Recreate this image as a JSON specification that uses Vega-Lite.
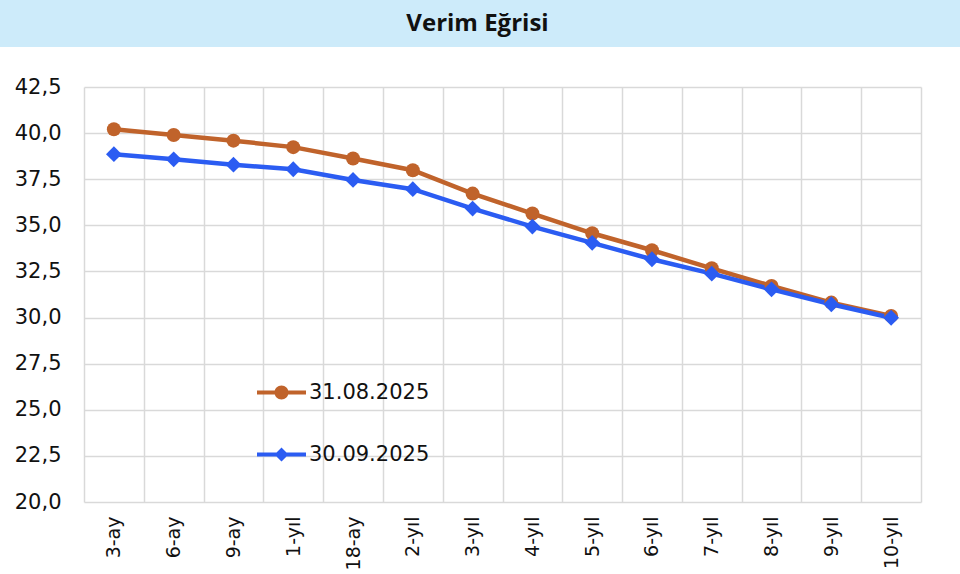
{
  "$schema": "https://vega.github.io/schema/vega-lite/v6.json",
  "padding": 0,
  "background": "white",
  "spacing": 29,
  "center": true,
  "config": {
    "locale": {"number": {"decimal": ",", "thousands": ".", "grouping": [3], "currency": ["", " ₺"]}},
    "view": {"stroke": null}
  },
  "vconcat": [
    {
      "width": 1005,
      "height": 47,
      "view": {"fill": "#CDEBFA", "stroke": null},
      "data": {"values": [{"title": "Verim Eğrisi"}]},
      "mark": {"type": "text", "font": "Open Sans", "fontWeight": "bold", "fontSize": 24, "color": "#111111", "dx": -25},
      "encoding": {"text": {"field": "title", "type": "nominal"}}
    },
    {
      "width": 837,
      "height": 415,
      "data": {"values": [
        {"tenor": "3-ay", "series": "31.08.2025", "value": 40.21},
        {"tenor": "6-ay", "series": "31.08.2025", "value": 39.90},
        {"tenor": "9-ay", "series": "31.08.2025", "value": 39.59},
        {"tenor": "1-yıl", "series": "31.08.2025", "value": 39.24},
        {"tenor": "18-ay", "series": "31.08.2025", "value": 38.62},
        {"tenor": "2-yıl", "series": "31.08.2025", "value": 37.99},
        {"tenor": "3-yıl", "series": "31.08.2025", "value": 36.72},
        {"tenor": "4-yıl", "series": "31.08.2025", "value": 35.64},
        {"tenor": "5-yıl", "series": "31.08.2025", "value": 34.57},
        {"tenor": "6-yıl", "series": "31.08.2025", "value": 33.65},
        {"tenor": "7-yıl", "series": "31.08.2025", "value": 32.67},
        {"tenor": "8-yıl", "series": "31.08.2025", "value": 31.71},
        {"tenor": "9-yıl", "series": "31.08.2025", "value": 30.81},
        {"tenor": "10-yıl", "series": "31.08.2025", "value": 30.09},
        {"tenor": "3-ay", "series": "30.09.2025", "value": 38.86},
        {"tenor": "6-ay", "series": "30.09.2025", "value": 38.58},
        {"tenor": "9-ay", "series": "30.09.2025", "value": 38.29},
        {"tenor": "1-yıl", "series": "30.09.2025", "value": 38.04},
        {"tenor": "18-ay", "series": "30.09.2025", "value": 37.46},
        {"tenor": "2-yıl", "series": "30.09.2025", "value": 36.96},
        {"tenor": "3-yıl", "series": "30.09.2025", "value": 35.91},
        {"tenor": "4-yıl", "series": "30.09.2025", "value": 34.93},
        {"tenor": "5-yıl", "series": "30.09.2025", "value": 34.05},
        {"tenor": "6-yıl", "series": "30.09.2025", "value": 33.16},
        {"tenor": "7-yıl", "series": "30.09.2025", "value": 32.38},
        {"tenor": "8-yıl", "series": "30.09.2025", "value": 31.53},
        {"tenor": "9-yıl", "series": "30.09.2025", "value": 30.72},
        {"tenor": "10-yıl", "series": "30.09.2025", "value": 29.99}
      ]},
      "encoding": {
        "x": {
          "field": "tenor", "type": "ordinal",
          "sort": ["3-ay", "6-ay", "9-ay", "1-yıl", "18-ay", "2-yıl", "3-yıl", "4-yıl", "5-yıl", "6-yıl", "7-yıl", "8-yıl", "9-yıl", "10-yıl"],
          "scale": {"type": "band", "paddingInner": 0, "paddingOuter": 0},
          "axis": {
            "title": null, "labelAngle": -90, "tickBand": "extent", "ticks": false, "tickSize": 0,
            "domain": false, "grid": true, "gridColor": "#D9D9D9", "gridWidth": 1.5,
            "labelFont": "DejaVu Sans", "labelFontSize": 19, "labelColor": "#111111", "labelPadding": 14
          }
        },
        "y": {
          "field": "value", "type": "quantitative",
          "scale": {"domain": [20, 42.5], "zero": false, "nice": false},
          "axis": {
            "title": null, "values": [20, 22.5, 25, 27.5, 30, 32.5, 35, 37.5, 40, 42.5], "format": ".1f",
            "ticks": false, "tickSize": 0, "domain": false, "grid": true, "gridColor": "#D9D9D9", "gridWidth": 1.5,
            "labelFont": "DejaVu Sans", "labelFontSize": 21, "labelColor": "#111111", "labelPadding": 23, "minExtent": 84
          }
        },
        "color": {
          "field": "series", "type": "nominal",
          "scale": {"domain": ["31.08.2025", "30.09.2025"], "range": ["#C0632B", "#2B5CF2"]},
          "legend": {
            "orient": "none", "legendX": 271, "legendY": 382, "title": null, "direction": "vertical",
            "symbolSize": 196, "labelOffset": 17, "labelFont": "DejaVu Sans", "labelFontSize": 21,
            "labelColor": "#111111", "rowPadding": 40, "padding": 0, "symbolStrokeWidth": 0, "symbolOpacity": 1
          }
        }
      },
      "layer": [
        {"mark": {"type": "line", "strokeWidth": 4.5}},
        {
          "transform": [{"filter": "datum.series === '31.08.2025'"}],
          "mark": {"type": "point", "filled": true, "opacity": 1, "size": 196, "shape": "circle"}
        },
        {
          "transform": [{"filter": "datum.series === '30.09.2025'"}],
          "mark": {"type": "point", "filled": true, "opacity": 1, "size": 250, "shape": "diamond"}
        },
        {
          "mark": {"type": "point", "filled": true, "size": 0, "opacity": 1},
          "encoding": {
            "shape": {
              "field": "series", "type": "nominal",
              "scale": {"domain": ["31.08.2025", "30.09.2025"], "range": [
                "M-3.5,-0.29H3.5V0.29H-3.5Z M1,0A1,1,0,1,1,-1,0A1,1,0,1,1,1,0Z",
                "M-3.5,-0.29H3.5V0.29H-3.5Z M0,-1L1,0L0,1L-1,0Z"
              ]}
            }
          }
        }
      ]
    }
  ]
}
